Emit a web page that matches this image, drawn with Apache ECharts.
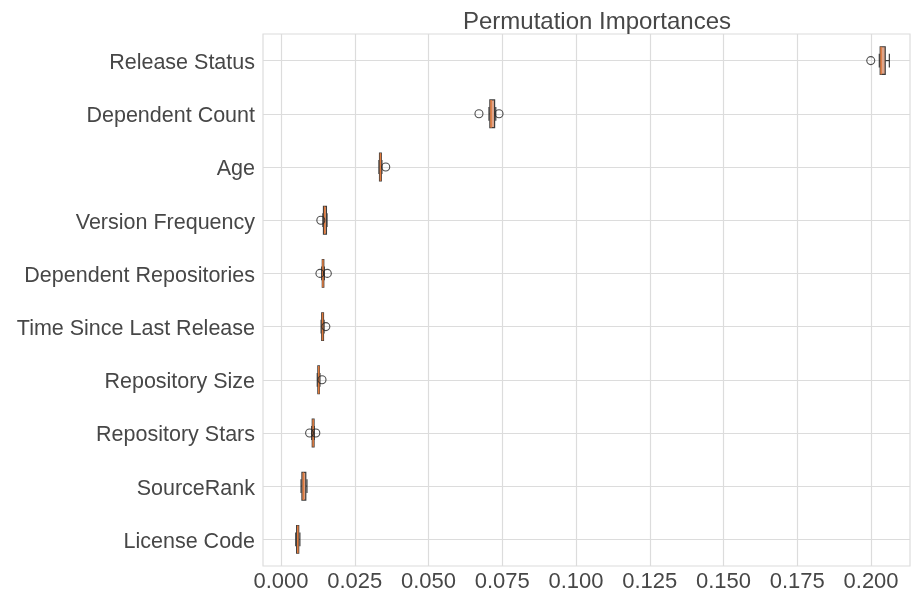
<!DOCTYPE html>
<html>
<head>
<meta charset="utf-8">
<script src="https://cdn.jsdelivr.net/npm/echarts@6/dist/echarts.min.js"></script>
<style>
html,body{margin:0;padding:0;background:#fff;}
#chart{width:911px;height:598px;}
</style>
</head>
<body>
<div id="chart"></div>
<script>
// Categories, top to bottom
const categories = [
  "Release Status", "Dependent Count", "Age", "Version Frequency",
  "Dependent Repositories", "Time Since Last Release", "Repository Size",
  "Repository Stars", "SourceRank", "License Code"
];
// [whisker low, Q1, median, Q3, whisker high] per category
const boxStats = [
  [0.2028, 0.2031, 0.2034, 0.2048, 0.2062],
  [0.0705, 0.0708, 0.0712, 0.0724, 0.0728],
  [0.0332, 0.0334, 0.0337, 0.0340, 0.0342],
  [0.0142, 0.0144, 0.0148, 0.0154, 0.0156],
  [0.0138, 0.0140, 0.0142, 0.0145, 0.0147],
  [0.0136, 0.0138, 0.0141, 0.0144, 0.0146],
  [0.0123, 0.0125, 0.0128, 0.0130, 0.0132],
  [0.0104, 0.0106, 0.0109, 0.0112, 0.0113],
  [0.0068, 0.0071, 0.0076, 0.0084, 0.0088],
  [0.0050, 0.0053, 0.0057, 0.0060, 0.0064]
];
// outlier points per category
const outliers = [
  [0.1999],
  [0.0671, 0.0739],
  [0.0355],
  [0.0135],
  [0.0132, 0.0157],
  [0.0152],
  [0.0139],
  [0.0097, 0.0118],
  [],
  []
];
const xTicks = [0, 0.025, 0.05, 0.075, 0.1, 0.125, 0.15, 0.175, 0.2];

const boxData = boxStats.map((s, i) => [i].concat(s));
const outlierData = [];
outliers.forEach((arr, i) => arr.forEach(v => outlierData.push([v, categories[i]])));

const textColor = '#474747';
const gridColor = '#dcdcdc';
const fontFamily = 'Liberation Sans, Arial, sans-serif';

const chart = echarts.init(document.getElementById('chart'));
chart.setOption({
  animation: false,
  backgroundColor: '#ffffff',
  title: {
    text: 'Permutation Importances',
    left: 592, top: 5, textAlign: 'center',
    textStyle: { color: textColor, fontSize: 24, fontWeight: 'normal', fontFamily: fontFamily }
  },
  grid: {
    left: 263, right: 1, top: 34, bottom: 32,
    show: true, borderColor: gridColor, borderWidth: 1.2, backgroundColor: 'transparent'
  },
  xAxis: {
    type: 'value',
    min: -0.0061, max: 0.2132,
    axisLine: { show: false },
    axisTick: { show: false, customValues: xTicks },
    splitLine: { show: true, lineStyle: { color: gridColor, width: 1.2 } },
    axisLabel: {
      color: textColor, fontSize: 22, fontFamily: fontFamily, margin: 5,
      customValues: xTicks,
      formatter: function (v) { return v.toFixed(3); }
    }
  },
  yAxis: {
    type: 'category',
    data: categories,
    inverse: true,
    axisLine: { show: false },
    axisTick: { show: false, alignWithLabel: true },
    splitLine: { show: true, alignWithLabel: true, lineStyle: { color: gridColor, width: 1.2 } },
    axisLabel: {
      margin: 8,
      formatter: function (v) { return '{a|' + v + '}'; },
      rich: { a: { color: textColor, fontSize: 21.5, fontFamily: fontFamily, padding: [5, 0, 0, 0] } }
    }
  },
  series: [
    {
      type: 'custom',
      data: boxData,
      encode: { x: [1, 2, 3, 4, 5], y: 0 },
      z: 3,
      renderItem: function (params, api) {
        const cat = api.value(0);
        const mn = api.value(1), q1 = api.value(2), md = api.value(3), q3 = api.value(4), mx = api.value(5);
        const yc = api.coord([0, cat])[1];
        const band = api.size([0, 1])[1];
        const h = band * 0.52, capH = band * 0.26;
        const X = v => api.coord([v, cat])[0];
        const dark = { stroke: '#3c3c3c', lineWidth: 1.2 };
        return {
          type: 'group',
          children: [
            { type: 'line', shape: { x1: X(mn), y1: yc, x2: X(q1), y2: yc }, style: dark },
            { type: 'line', shape: { x1: X(q3), y1: yc, x2: X(mx), y2: yc }, style: dark },
            { type: 'line', shape: { x1: X(mn), y1: yc - capH / 2, x2: X(mn), y2: yc + capH / 2 }, style: dark },
            { type: 'line', shape: { x1: X(mx), y1: yc - capH / 2, x2: X(mx), y2: yc + capH / 2 }, style: dark },
            { type: 'rect', shape: { x: X(q1), y: yc - h / 2, width: X(q3) - X(q1), height: h },
              style: { fill: '#dea58a', stroke: '#3c3c3c', lineWidth: 1.2 } },
            { type: 'line', shape: { x1: X(md), y1: yc - h / 2, x2: X(md), y2: yc + h / 2 },
              style: { stroke: '#e07a3c', lineWidth: 1.5 } }
          ]
        };
      }
    },
    {
      type: 'scatter',
      data: outlierData,
      symbol: 'circle',
      symbolSize: 8,
      z: 4,
      itemStyle: { color: 'rgba(255,255,255,0)', borderColor: '#222222', borderWidth: 1.1 }
    }
  ]
});
</script>
</body>
</html>
